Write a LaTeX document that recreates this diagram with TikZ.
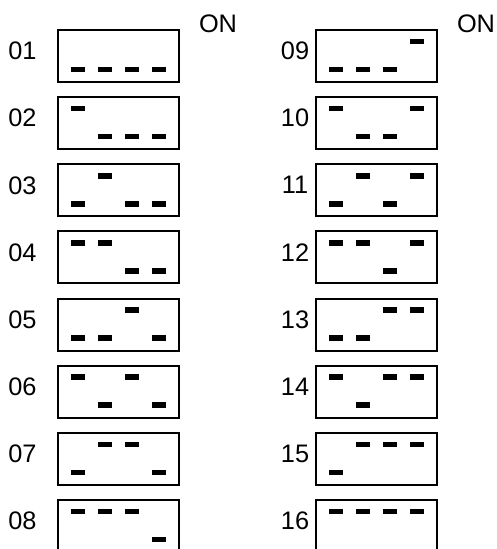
\documentclass[tikz,border=0pt]{standalone}
\usepackage{fontspec}
\setmainfont{Liberation Sans}

\begin{document}
\begin{tikzpicture}[
    x=0.75pt, y=-0.75pt,
    switchbox/.style={rectangle, draw, line width=1.5pt, minimum width=90.75pt, minimum height=39pt, inner sep=0pt},
    lever/.style={rectangle, fill=black, minimum width=10.5pt, minimum height=4.2pt, inner sep=0pt},
    num/.style={font=\fontsize{19}{22}\selectfont, inner sep=0pt}
]

% Frame
\useasboundingbox (0,0) rectangle (496,549);
\clip (0,0) rectangle (496,549);

% ON marks
\node[num] (on1) at (218,24) {ON};
\node[num] (on2) at (476,24) {ON};

% DIP switch settings 01..16 (switch 1 = lowest bit)
\foreach \n [count=\v from 0] in {01,02,03,04,05,06,07,08,09,10,11,12,13,14,15,16} {
    \pgfmathsetmacro\bx{118.5+257.8*int(\v/8)}
    \pgfmathsetmacro\by{56+67.14*mod(\v,8)}
    \pgfmathsetmacro\lx{ifthenelse(\v<8,22.5,295)}
    \node[switchbox] (box\n) at (\bx,\by) {};
    \node[num] (lbl\n) at (\lx,\by-5) {\n};
    \foreach \i in {0,...,3} {
        \pgfmathtruncatemacro\up{mod(int(\v/2^\i),2)}
        \pgfmathsetmacro\ly{13.5-28*\up}
        \node[lever] (box\n-\i) at ([shift={(\i*27.2-40.8,\ly)}]box\n.center) {};
    }
}

\end{tikzpicture}
\end{document}
